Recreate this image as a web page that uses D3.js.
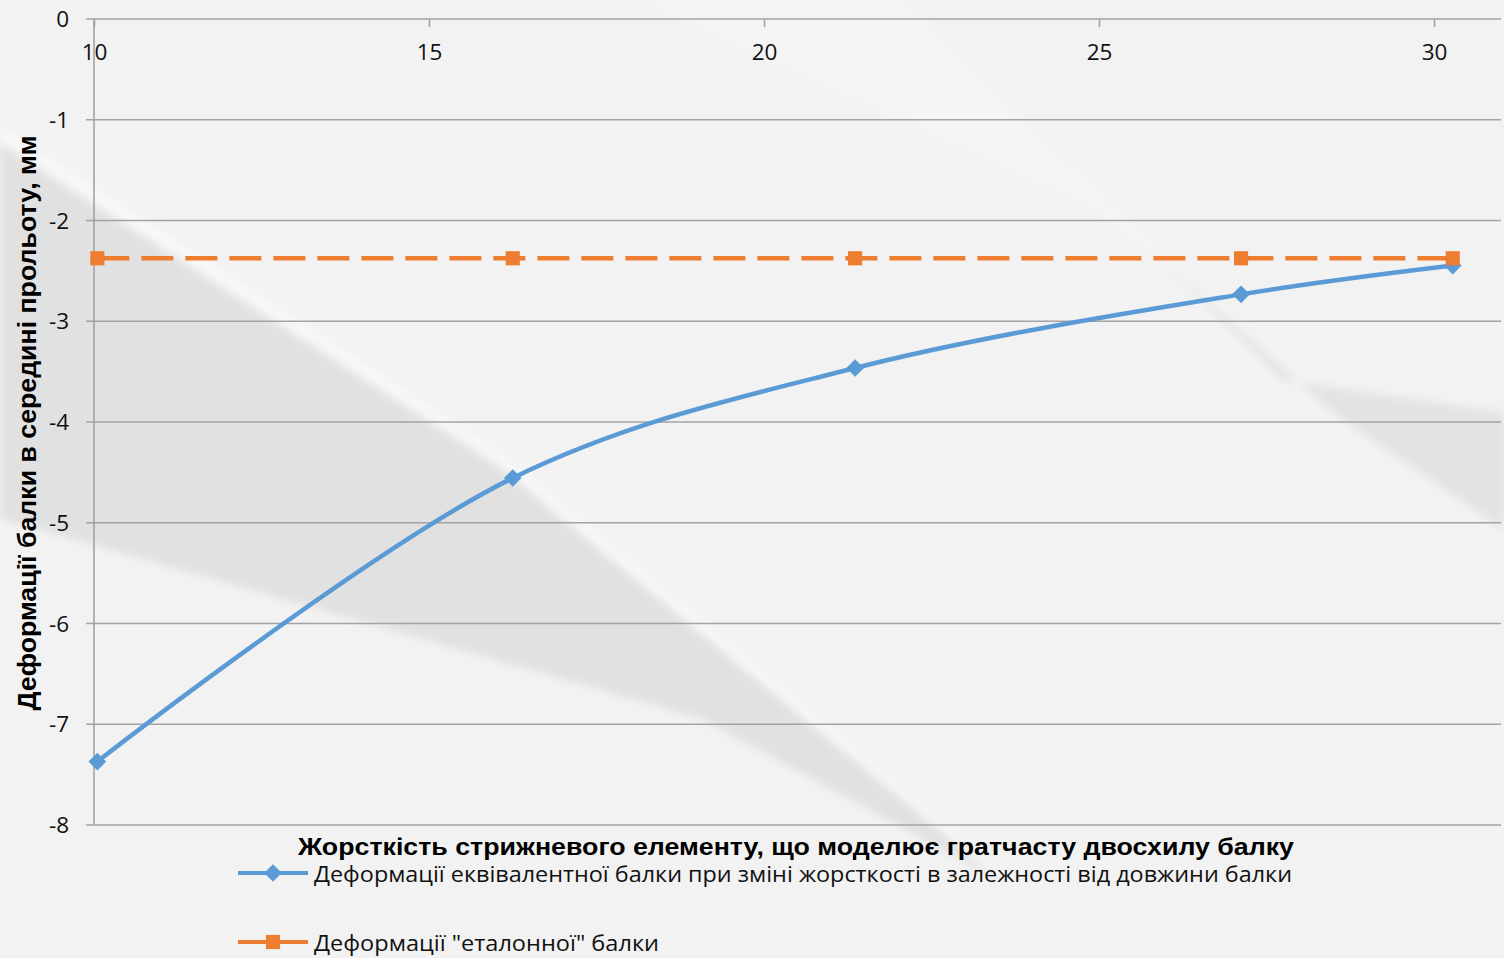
<!DOCTYPE html>
<html>
<head>
<meta charset="utf-8">
<script src="https://cdn.jsdelivr.net/npm/d3@7"></script>
<style>
  html, body { margin: 0; padding: 0; background: #f2f2f2; }
  svg { display: block; }
</style>
</head>
<body>
<svg id="chart"></svg>
<script>
// data
const stiffness = [10.05, 16.25, 21.36, 27.12, 30.28];
const equivDeflection = [-7.37, -4.556, -3.464, -2.733, -2.447];
const etalonDeflection = [-2.375, -2.375, -2.375, -2.375, -2.375];
const xTicks = [10, 15, 20, 25, 30];
const yTicks = [0, -1, -2, -3, -4, -5, -6, -7, -8];

const seriesNames = [
  "Деформації еквівалентної балки при зміні жорсткості в залежності від довжини балки",
  "Деформації \"еталонної\" балки"
];
const xTitle = "Жорсткість стрижневого елементу, що моделює гратчасту двосхилу балку";
const yTitle = "Деформації балки в середині прольоту, мм";

const W = 1504, H = 958;
const blue = "#5b9bd5", orange = "#ed7d31", grid = "#a3a3a3";
const tickFont = "'Open Sans', 'Noto Sans', sans-serif";
const titleFont = "'Liberation Sans', Arial, sans-serif";

const svg = d3.select("#chart").attr("width", W).attr("height", H);

const x = d3.scaleLinear().domain([10, 31]).range([94, 1501]);
const y = d3.scaleLinear().domain([0, -8]).range([19, 825]);

// background with soft diagonal shading
const defs = svg.append("defs");
defs.append("filter").attr("id", "soft")
  .attr("x", "-10%").attr("y", "-10%").attr("width", "120%").attr("height", "120%")
  .append("feGaussianBlur").attr("stdDeviation", 4);

svg.append("rect").attr("width", W).attr("height", H).attr("fill", "#f2f2f2");

const bg = svg.append("g").attr("filter", "url(#soft)");
bg.append("polygon")
  .attr("points", "0,125 500,452 1010,880 700,715 0,505")
  .attr("fill", "#f8f8f8");
bg.append("polygon")
  .attr("points", "0,143 500,467 1000,880 700,718 0,518")
  .attr("fill", "#e1e1e1");
bg.append("polygon")
  .attr("points", "640,0 900,0 1290,380 1504,410 1504,530 1333,415 1100,210")
  .attr("fill", "#f5f5f5");
bg.append("polygon")
  .attr("points", "1150,250 1283,380 1504,412 1504,530 1333,413")
  .attr("fill", "#e3e3e3");

// horizontal gridlines
svg.append("g")
  .selectAll("line")
  .data(yTicks)
  .join("line")
  .attr("x1", 86)
  .attr("x2", 1501)
  .attr("y1", (d) => y(d))
  .attr("y2", (d) => y(d))
  .attr("stroke", grid)
  .attr("stroke-width", 1.6);

// left axis line
svg.append("line")
  .attr("x1", x(10)).attr("x2", x(10))
  .attr("y1", y(0)).attr("y2", y(-8))
  .attr("stroke", grid).attr("stroke-width", 1.6);

// y tick labels
svg.append("g")
  .selectAll("text")
  .data(yTicks)
  .join("text")
  .attr("x", 69)
  .attr("y", (d) => y(d))
  .attr("dy", "0.36em")
  .attr("text-anchor", "end")
  .attr("font-family", tickFont)
  .attr("font-size", 22.5)
  .attr("fill", "#111")
  .text((d) => (d === 0 ? "0" : "-" + Math.abs(d)));

// x axis sits on y = 0, at the top
const xAxis = svg.append("g")
  .attr("transform", `translate(0,${y(0)})`)
  .call(d3.axisBottom(x).tickValues(xTicks).tickSize(8).tickPadding(17));
xAxis.select(".domain").remove();
xAxis.selectAll(".tick line").attr("stroke", grid).attr("stroke-width", 1.6);
xAxis.selectAll(".tick text")
  .attr("font-family", tickFont)
  .attr("font-size", 22.5)
  .attr("fill", "#111");

// series
const pts = (ys) => stiffness.map((v, i) => [x(v), y(ys[i])]);

svg.append("path")
  .attr("d", d3.line().curve(d3.curveCatmullRom.alpha(0.5))(pts(equivDeflection)))
  .attr("fill", "none")
  .attr("stroke", blue)
  .attr("stroke-width", 4.5)
  .attr("stroke-linejoin", "round");

const diamond = d3.symbol().type(d3.symbolDiamond2).size(200);
const square = d3.symbol().type(d3.symbolSquare).size(200);

svg.append("g")
  .selectAll("path")
  .data(pts(equivDeflection))
  .join("path")
  .attr("transform", (d) => `translate(${d[0]},${d[1]})`)
  .attr("d", diamond)
  .attr("fill", blue);

svg.append("path")
  .attr("d", d3.line()(pts(etalonDeflection)))
  .attr("fill", "none")
  .attr("stroke", orange)
  .attr("stroke-width", 4.5)
  .attr("stroke-dasharray", "32,12");

svg.append("g")
  .selectAll("path")
  .data(pts(etalonDeflection))
  .join("path")
  .attr("transform", (d) => `translate(${d[0]},${d[1]})`)
  .attr("d", square)
  .attr("fill", orange);

// axis titles
svg.append("text")
  .attr("x", 796)
  .attr("y", 855)
  .attr("text-anchor", "middle")
  .attr("font-family", titleFont)
  .attr("font-weight", "bold")
  .attr("font-size", 24)
  .attr("fill", "#000")
  .attr("textLength", 996)
  .attr("lengthAdjust", "spacingAndGlyphs")
  .text(xTitle);

svg.append("text")
  .attr("transform", "translate(36,423) rotate(-90)")
  .attr("text-anchor", "middle")
  .attr("font-family", titleFont)
  .attr("font-weight", "bold")
  .attr("font-size", 25)
  .attr("fill", "#000")
  .attr("textLength", 575)
  .attr("lengthAdjust", "spacingAndGlyphs")
  .text(yTitle);

// legend
const legendRows = [
  { name: seriesNames[0], color: blue, sym: diamond, y: 873, len: 978 },
  { name: seriesNames[1], color: orange, sym: square, y: 942, len: 345 }
];
const lg = svg.append("g")
  .selectAll("g")
  .data(legendRows)
  .join("g")
  .attr("transform", (d) => `translate(0,${d.y})`);
lg.append("line")
  .attr("x1", 238).attr("x2", 308)
  .attr("stroke", (d) => d.color)
  .attr("stroke-width", 4);
lg.append("path")
  .attr("transform", "translate(273,0)")
  .attr("d", (d) => d.sym())
  .attr("fill", (d) => d.color);
lg.append("text")
  .attr("x", 314)
  .attr("y", 1)
  .attr("dy", "0.35em")
  .attr("font-family", tickFont)
  .attr("font-size", 22)
  .attr("fill", "#111")
  .attr("textLength", (d) => d.len)
  .attr("lengthAdjust", "spacingAndGlyphs")
  .text((d) => d.name);
</script>
</body>
</html>
